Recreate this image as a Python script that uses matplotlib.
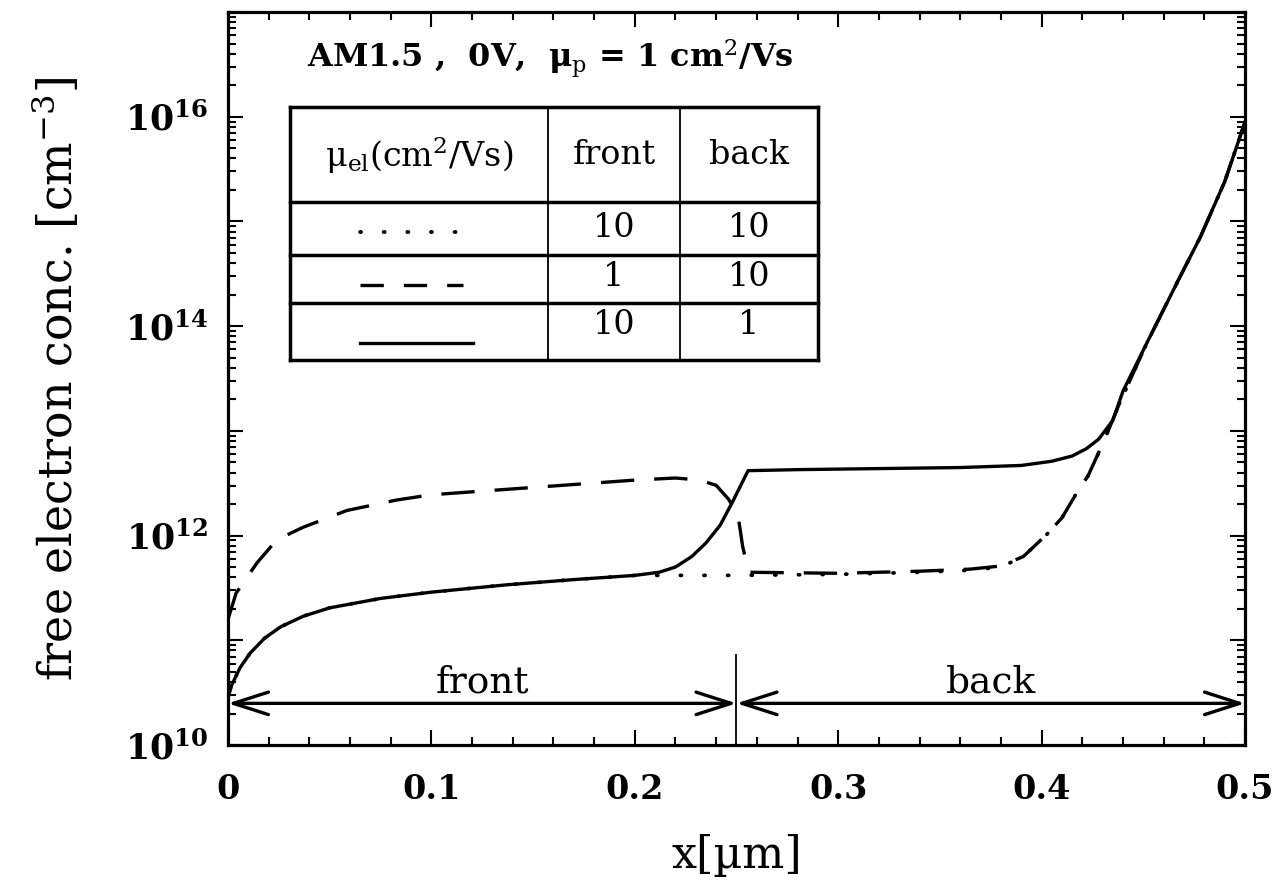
import numpy as np
import matplotlib
matplotlib.use("Agg")
import matplotlib.pyplot as plt
from matplotlib.ticker import FixedLocator, MultipleLocator, FuncFormatter, LogLocator, NullFormatter
from matplotlib.lines import Line2D

plt.rcParams['font.family'] = 'DejaVu Serif'
plt.rcParams['mathtext.fontset'] = 'dejavuserif'

# log10 of free electron concentration [cm^-3] vs x [um]
# solid: mu_el front 10, back 1
x_solid = [0, 0.002, 0.006, 0.011, 0.018, 0.026, 0.037, 0.05, 0.075, 0.1, 0.137, 0.17, 0.2,
           0.212, 0.22, 0.228, 0.235, 0.242, 0.248, 0.2557, 0.28, 0.32, 0.36, 0.39, 0.405,
           0.415, 0.422, 0.428, 0.435, 0.44, 0.452, 0.468, 0.478, 0.49, 0.5]
n_solid = [10.45, 10.58, 10.74, 10.88, 11.02, 11.13, 11.23, 11.31, 11.40, 11.46, 11.53, 11.58, 11.62,
           11.65, 11.70, 11.80, 11.93, 12.10, 12.32, 12.62, 12.63, 12.64, 12.65, 12.67, 12.71,
           12.76, 12.83, 12.92, 13.10, 13.38, 13.85, 14.47, 14.85, 15.38, 15.95]

# dashed: mu_el front 1, back 10
x_dash = [0, 0.004, 0.01, 0.0143, 0.024, 0.037, 0.0585, 0.083, 0.1, 0.15, 0.2, 0.22, 0.232,
          0.24, 0.246, 0.2507, 0.253, 0.256, 0.3, 0.34, 0.365, 0.38, 0.391, 0.403, 0.41,
          0.4164, 0.4228, 0.4287, 0.4336, 0.438, 0.452, 0.468, 0.478, 0.49, 0.5]
n_dash = [11.2, 11.45, 11.62, 11.74, 11.96, 12.08, 12.24, 12.34, 12.39, 12.46, 12.53, 12.55, 12.53,
          12.48, 12.35, 12.2, 11.9, 11.65, 11.64, 11.66, 11.68, 11.71, 11.80, 12.02, 12.17,
          12.38, 12.57, 12.82, 13.04, 13.25, 13.85, 14.47, 14.85, 15.38, 15.95]

# dotted: mu_el front 10, back 10
x_dot = [0, 0.002, 0.006, 0.011, 0.018, 0.026, 0.037, 0.05, 0.075, 0.1, 0.137, 0.17, 0.2,
         0.25, 0.3, 0.34, 0.365, 0.38, 0.391, 0.403, 0.41, 0.4164, 0.4228, 0.4287, 0.4336,
         0.438, 0.452, 0.468, 0.478, 0.49, 0.5]
n_dot = [10.45, 10.58, 10.74, 10.88, 11.02, 11.13, 11.23, 11.31, 11.40, 11.46, 11.53, 11.58, 11.62,
         11.62, 11.63, 11.65, 11.67, 11.70, 11.80, 12.02, 12.17, 12.38, 12.57, 12.82, 13.04,
         13.25, 13.85, 14.47, 14.85, 15.38, 15.95]

table_header = ['μ$_{\\rm el}$(cm$^2$/Vs)', 'front', 'back']
table_front = ['10', '1', '10']
table_back = ['10', '10', '1']

fig = plt.figure(figsize=(12.85, 8.84), dpi=100)
ax = fig.add_axes([0.1774, 0.1572, 0.7915, 0.8292])

lw = 2.4
ax.semilogy(x_solid, 10 ** np.array(n_solid), color='k', lw=lw)
ax.semilogy(x_dash, 10 ** np.array(n_dash), color='k', lw=lw, dashes=(10, 6))
ax.semilogy(x_dot, 10 ** np.array(n_dot), color='k', lw=2.7, dashes=(0.3, 6), dash_capstyle='round')

ax.set_xlim(0, 0.5)
ax.set_ylim(1e10, 1e17)

ax.xaxis.set_major_locator(MultipleLocator(0.1))
ax.xaxis.set_minor_locator(MultipleLocator(0.02))
ax.xaxis.set_major_formatter(FuncFormatter(lambda v, p: '0' if v == 0 else '%.1f' % v))
ax.yaxis.set_major_locator(FixedLocator([10.0 ** k for k in range(10, 18)]))
ax.yaxis.set_minor_locator(LogLocator(base=10, subs=np.arange(2, 10), numticks=30))
ax.yaxis.set_minor_formatter(NullFormatter())


def ylab(v, p):
    k = int(round(np.log10(v)))
    if k % 2 == 0 and k < 17:
        return r'$\mathbf{10}^{\mathbf{%d}}$' % k
    return ''


ax.yaxis.set_major_formatter(FuncFormatter(ylab))

ax.tick_params(which='both', direction='in', top=True, right=True, width=1.5)
ax.tick_params(which='major', length=11, pad=12)
ax.tick_params(which='minor', length=6)
ax.tick_params(axis='x', labelsize=24, pad=20)
ax.tick_params(axis='y', labelsize=25, pad=14)
for t in ax.get_xticklabels():
    t.set_fontweight('bold')
for s in ax.spines.values():
    s.set_linewidth(2.3)

ax.set_xlabel('x[µm]', fontsize=32, labelpad=20)
ax.set_ylabel(r'free electron conc. [cm$^{-3}$]', fontsize=33, labelpad=30)

# front / back arrows
ya = 2.5e10
arrow = dict(arrowstyle='<->,head_length=1.4,head_width=0.45', lw=2.4, color='k',
             shrinkA=0, shrinkB=0, mutation_scale=18)
ax.annotate('', xy=(0, ya), xytext=(0.25, ya), arrowprops=arrow)
ax.annotate('', xy=(0.25, ya), xytext=(0.5, ya), arrowprops=arrow)
ax.plot([0.25, 0.25], [1e10, 7.2e10], color='k', lw=1.3)
ax.text(0.125, 3.2e10, 'front', ha='center', va='baseline', fontsize=27)
ax.text(0.375, 3.2e10, 'back', ha='center', va='baseline', fontsize=27)

# title and table
ax.text(0.3166, 0.9236, 'AM1.5 ,  0V,  μ$_{\\rm p}$ = 1 cm$^2$/Vs', transform=ax.transAxes,
        ha='center', va='baseline', fontsize=23, fontweight='bold')

L, C1, C2, R = 0.061, 0.3147, 0.4444, 0.5801
T, R1, R2, R3, B = 0.8704, 0.7408, 0.6685, 0.6030, 0.5252
for y in [T, R1, R2, R3, B]:
    ax.plot([L, R], [y, y], transform=ax.transAxes, color='k', lw=2.5, solid_capstyle='projecting')
for x, w in [(L, 2.5), (R, 2.5), (C1, 1.3), (C2, 1.3)]:
    ax.plot([x, x], [B, T], transform=ax.transAxes, color='k', lw=w)

cx = [(L + C1) / 2, (C1 + C2) / 2, (C2 + R) / 2]
for c, s in zip(cx, table_header):
    ax.text(c, 0.805, s, transform=ax.transAxes, ha='center', va='center', fontsize=24)
rows_y = [0.705, 0.638, 0.573]
for y, f, b in zip(rows_y, table_front, table_back):
    ax.text(cx[1], y, f, transform=ax.transAxes, ha='center', va='center', fontsize=24)
    ax.text(cx[2], y, b, transform=ax.transAxes, ha='center', va='center', fontsize=24)

ax.add_line(Line2D([0.1298, 0.231], [0.700, 0.700], transform=ax.transAxes, color='k',
                   lw=2.7, dashes=(0.3, 6), dash_capstyle='round'))
ax.add_line(Line2D([0.1298, 0.231], [0.6276, 0.6276], transform=ax.transAxes, color='k',
                   lw=lw, dashes=(7, 6)))
ax.add_line(Line2D([0.1298, 0.241], [0.5484, 0.5484], transform=ax.transAxes, color='k', lw=lw))

fig.savefig('out.png', dpi=100)
